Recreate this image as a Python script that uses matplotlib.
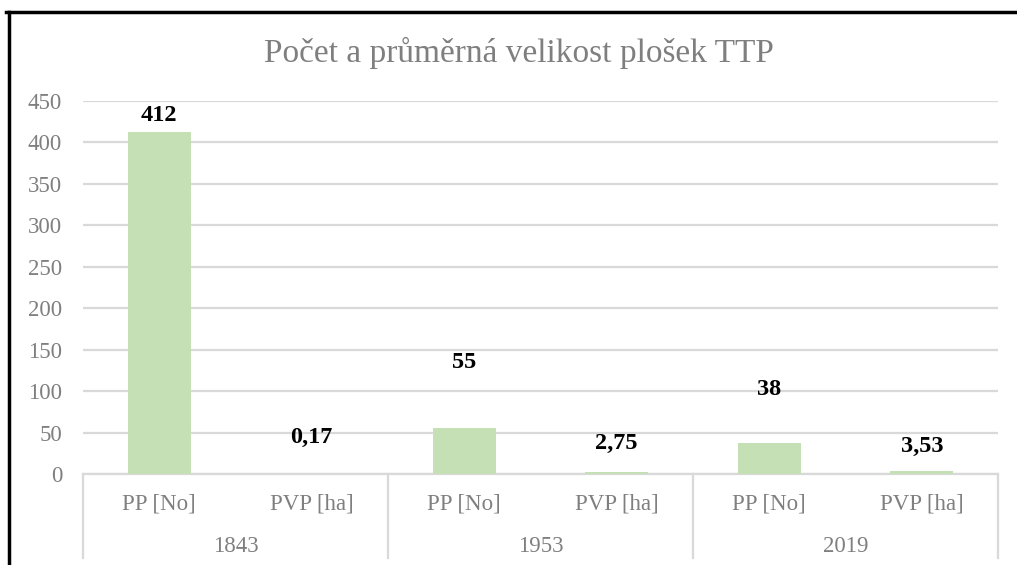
import matplotlib.pyplot as plt
from matplotlib.lines import Line2D
import numpy as np

COLOR_BAR = '#c5e0b4'
COLOR_GRID = '#d9d9d9'
COLOR_TEXT = '#7f7f7f'
COLOR_LABEL = '#000000'

years = ['1843', '1953', '2019']
measures = ['PP [No]', 'PVP [ha]']
values = [412, 0.17, 55, 2.75, 38, 3.53]
value_labels = ['412', '0,17', '55', '2,75', '38', '3,53']
# where Excel put the data labels (data units)
label_y = [433, 44.6, 134, 37.4, 102.5, 33.8]

plt.rcParams['font.family'] = ['Liberation Serif', 'DejaVu Serif']

fig = plt.figure(figsize=(10.17, 5.65), dpi=100)
ax = fig.add_axes([83 / 1017, 1 - 474 / 565, (998 - 83) / 1017, (474 - 101) / 565])

x = np.arange(len(values))
ax.bar(x, values, width=0.41, color=COLOR_BAR, zorder=3)
for xi, ly, txt in zip(x, label_y, value_labels):
    ax.text(xi, ly, txt, ha='center', va='center', fontsize=17.5, fontweight='bold', color=COLOR_LABEL, zorder=4)

ax.set_xlim(-0.5, len(values) - 0.5)
ax.set_ylim(0, 450)
ax.set_yticks(np.arange(0, 451, 50))
ax.grid(axis='y', color=COLOR_GRID, linewidth=1.6, zorder=0)
ax.set_axisbelow(True)
for s in ['top', 'right', 'left']:
    ax.spines[s].set_visible(False)
ax.spines['bottom'].set_color(COLOR_GRID)
ax.spines['bottom'].set_linewidth(1.6)
ax.tick_params(axis='y', length=0, labelsize=16.5, labelcolor=COLOR_TEXT, pad=15)
ax.set_xticks([])

# two-level category axis
trans = ax.get_xaxis_transform()
for i, xi in enumerate(x):
    ax.text(xi, -0.08, measures[i % 2], transform=trans, ha='center', va='center', fontsize=16.5, color=COLOR_TEXT)
for j, yr in enumerate(years):
    ax.text(2 * j + 0.5, -0.195, yr, transform=trans, ha='center', va='center', fontsize=16.5, color=COLOR_TEXT)
for b in [-0.5, 1.5, 3.5, 5.5]:
    ax.add_line(Line2D([b, b], [0, -0.225], transform=trans, color=COLOR_GRID, linewidth=1.6, clip_on=False))

fig.suptitle('Počet a průměrná velikost plošek TTP', x=0.51, y=1 - 53 / 565, va='center', fontsize=24, color=COLOR_TEXT)

# chart frame, cropped at right and bottom
fig.add_artist(Line2D([6 / 1017, 1], [1 - 12 / 565] * 2, transform=fig.transFigure, color='black', linewidth=2.5))
fig.add_artist(Line2D([9 / 1017] * 2, [0, 1 - 12 / 565], transform=fig.transFigure, color='black', linewidth=2.5))

fig.savefig('out.png', dpi=100, facecolor='white')
